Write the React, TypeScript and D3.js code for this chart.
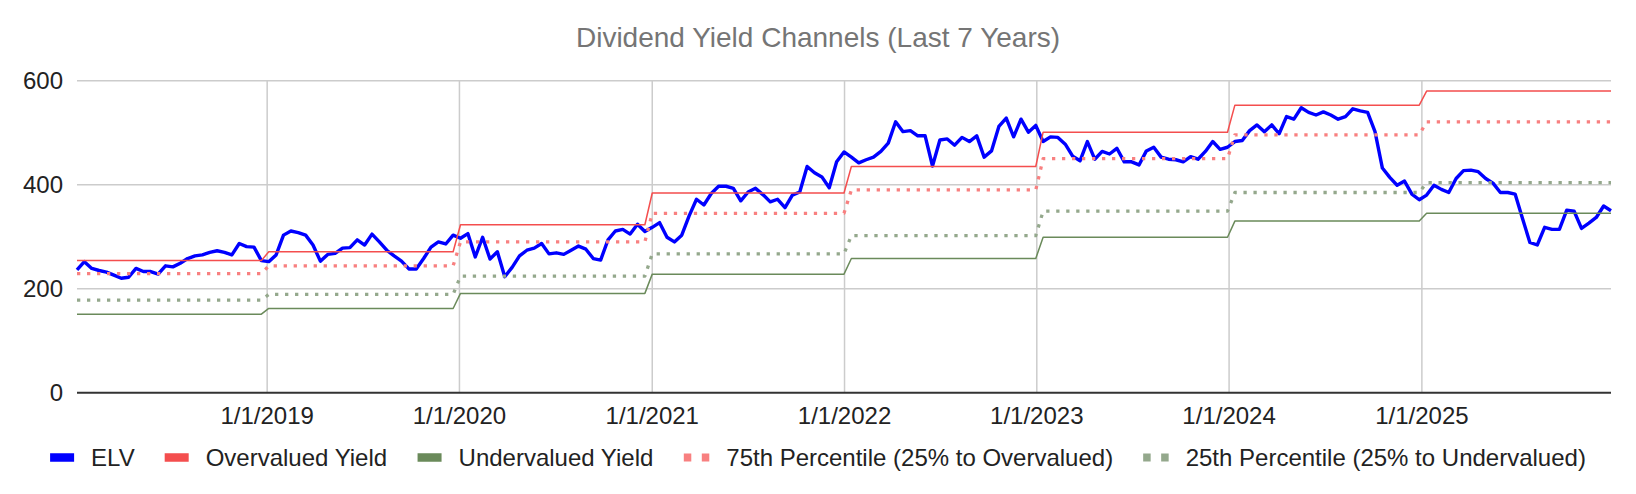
import * as d3 from "d3";
import { useMemo } from "react";

const W = 1636;
const H = 494;
const FONT = "'Liberation Sans', Arial, sans-serif";

// yearly channel levels
const years = [2018, 2019, 2020, 2021, 2022, 2023, 2024, 2025];
const overvalued = [254, 271, 323, 384, 435, 501, 553, 580];
const pct75 = [229, 244, 290, 345, 390, 450, 496, 521];
const pct25 = [178, 189, 224, 267, 302, 349, 385, 404];
const undervalued = [151, 162, 191, 228, 258, 299, 330, 345];

// biweekly closes, 2018-01-05 .. 2025-12-26
const elv = [
  // 2018
  236, 252, 239, 235, 232, 226, 220, 222, 239, 233, 233, 228, 244, 242, 249, 258, 263, 265, 270, 273, 270, 265, 287, 281, 280, 254,
  // 2019
  252, 265, 303, 311, 308, 303, 284, 253, 266, 268, 278, 279, 294, 284, 305, 290, 274, 263, 253, 238, 238, 258, 280, 290, 286, 303,
  // 2020
  297, 306, 261, 299, 257, 271, 223, 241, 263, 274, 278, 287, 267, 269, 266, 274, 282, 276, 258, 255, 294, 311, 314, 305, 324, 310,
  // 2021
  318, 327, 299, 290, 303, 340, 372, 361, 383, 397, 397, 393, 369, 386, 393, 381, 367, 372, 356, 380, 386, 435, 423, 415, 394, 444, 463,
  // 2022
  453, 442, 448, 453, 464, 480, 521, 502, 504, 494, 494, 436, 486, 488, 476, 491, 483, 494, 453, 465, 512, 528, 492, 526, 501, 514,
  // 2023
  483, 492, 491, 478, 455, 446, 483, 449, 464, 459, 470, 444, 444, 438, 465, 472, 453, 449, 448, 444, 454, 449, 464, 483, 468, 472,
  // 2024
  483, 485, 504, 515, 502, 515, 498, 531, 526, 548, 539, 534, 540, 534, 526, 531, 546, 542, 539, 502, 432, 414, 399, 407, 382, 371,
  // 2025
  380, 399, 391, 385, 412, 427, 428, 425, 412, 403, 385, 385, 382, 335, 289, 284, 318, 314, 314, 351, 349, 316, 326, 337, 359, 350,
];

const dates = d3.utcDay.range(new Date(Date.UTC(2018, 0, 5)), new Date(Date.UTC(2025, 11, 27)), 14);

const tickYears = [2019, 2020, 2021, 2022, 2023, 2024, 2025];
const yTicks = [0, 200, 400, 600];

const series = [
  { name: "ELV", color: "#0000ff", width: 3.4, dotted: false, values: elv },
  { name: "Overvalued Yield", color: "#f44e4e", width: 1.5, dotted: false, values: null as number[] | null, levels: overvalued },
  { name: "Undervalued Yield", color: "#6a8a5a", width: 1.5, dotted: false, values: null, levels: undervalued },
  { name: "75th Percentile (25% to Overvalued)", color: "#f88080", width: 3.3, dotted: true, values: null, levels: pct75 },
  { name: "25th Percentile (25% to Undervalued)", color: "#94a88c", width: 3.3, dotted: true, values: null, levels: pct25 },
];

function measure(text: string, size: number) {
  const c = document.createElement("canvas").getContext("2d");
  if (!c) return text.length * size * 0.5;
  c.font = `${size}px ${FONT}`;
  return c.measureText(text).width;
}

export default function App() {
  const left = 77;
  const right = 1611;
  const top = 80.7;
  const bottom = 392.7;

  const x = d3.scaleUtc().domain([dates[0], dates[dates.length - 1]]).range([left, right]);
  const y = d3.scaleLinear().domain([0, 600]).range([bottom, top]);

  const line = d3
    .line<number>()
    .x((_, i) => x(dates[i]))
    .y((v) => y(v));

  const lines = series.map((s) => {
    const vals = s.values ?? dates.map((d) => s.levels![years.indexOf(d.getUTCFullYear())]);
    return { ...s, d: line(vals) ?? "" };
  });

  const legend = useMemo(() => {
    const gapSwatch = 17;
    const gapItem = 30;
    const items = series.map((s) => {
      const sw = s.dotted ? 25.5 : 24;
      const tw = measure(s.name, 24);
      return { ...s, sw, tw };
    });
    const total =
      items.reduce((acc, it) => acc + it.sw + gapSwatch + it.tw, 0) + gapItem * (items.length - 1);
    let cx = (W - total) / 2;
    return items.map((it) => {
      const pos = { ...it, x0: cx };
      cx += it.sw + gapSwatch + it.tw + gapItem;
      return pos;
    });
  }, []);

  const legendY = 457.5;

  return (
    <svg
      width={W}
      height={H}
      style={{ position: "absolute", left: 0, top: 0, background: "#fff" }}
      fontFamily={FONT}
    >
      <rect width={W} height={H} fill="#fff" />
      <text x={W / 2} y={46.5} textAnchor="middle" fontSize={28} fill="#757575">
        Dividend Yield Channels (Last 7 Years)
      </text>

      {/* horizontal gridlines */}
      {yTicks
        .filter((t) => t !== 0)
        .map((t) => (
          <line key={t} x1={left} x2={right} y1={y(t)} y2={y(t)} stroke="#cccccc" strokeWidth={1.5} />
        ))}
      {/* vertical gridlines */}
      {tickYears.map((yr) => {
        const xx = x(new Date(Date.UTC(yr, 0, 1)));
        return <line key={yr} x1={xx} x2={xx} y1={top} y2={bottom} stroke="#cccccc" strokeWidth={1.5} />;
      })}

      {/* y labels */}
      {yTicks.map((t) => (
        <text key={t} x={63} y={y(t) + 8.5} textAnchor="end" fontSize={24} fill="#222">
          {t}
        </text>
      ))}
      {/* x labels */}
      {tickYears.map((yr) => (
        <text key={yr} x={x(new Date(Date.UTC(yr, 0, 1)))} y={424} textAnchor="middle" fontSize={24} fill="#222">
          {`1/1/${yr}`}
        </text>
      ))}

      {lines.map((s) => (
        <path
          key={s.name}
          d={s.d}
          fill="none"
          stroke={s.color}
          strokeWidth={s.width}
          strokeDasharray={s.dotted ? "3.3,6.7" : undefined}
          strokeLinejoin="round"
        />
      ))}

      {/* zero axis */}
      <line x1={left} x2={right} y1={y(0)} y2={y(0)} stroke="#333" strokeWidth={2} />

      {/* legend */}
      {legend.map((it) => (
        <g key={it.name}>
          {it.dotted ? (
            <line
              x1={it.x0}
              x2={it.x0 + it.sw}
              y1={legendY}
              y2={legendY}
              stroke={it.color}
              strokeWidth={8}
              strokeDasharray="7.5,10.5"
            />
          ) : (
            <rect x={it.x0} y={legendY - 4.25} width={it.sw} height={8.5} fill={it.color} />
          )}
          <text x={it.x0 + it.sw + 17} y={legendY + 8} fontSize={24} fill="#222">
            {it.name}
          </text>
        </g>
      ))}
    </svg>
  );
}
